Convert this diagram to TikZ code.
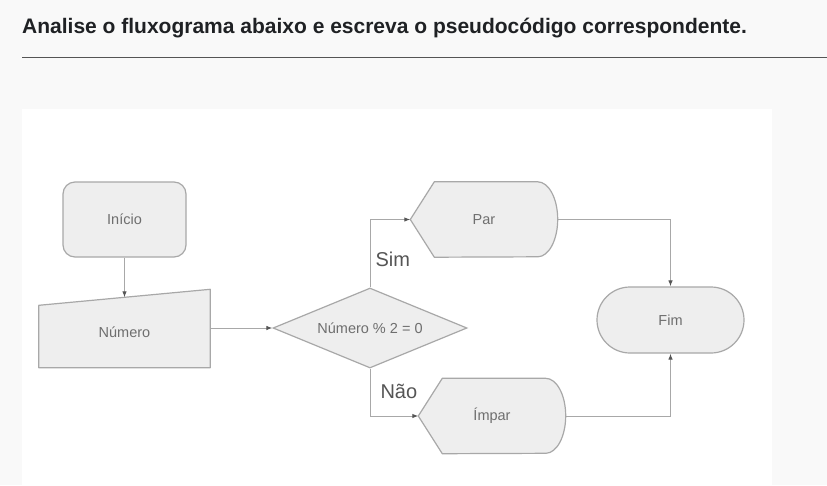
\documentclass[tikz,border=0pt]{standalone}
\usepackage{fontspec}
\setmainfont{Liberation Sans}
\usetikzlibrary{shapes.geometric}
\usetikzlibrary{arrows.meta}
\usetikzlibrary{backgrounds}
\definecolor{fundo}{HTML}{F9F9F9}
\definecolor{caixa}{HTML}{EEEEEE}
\definecolor{linha}{HTML}{A8A8A8}
\definecolor{texto}{HTML}{6E6E6E}
\definecolor{ramo}{HTML}{555555}
\definecolor{escuro}{HTML}{1F2124}
\newcommand{\rotulo}{\fontsize{14.5}{16}\selectfont}
\tikzstyle{term}=[draw=linha,fill=caixa,line width=1.2pt,rounded corners=12pt,minimum width=123pt,minimum height=75pt,font=\rotulo,text=texto]
\tikzstyle{entrada}=[minimum width=171pt,minimum height=70pt,font=\rotulo,text=texto]
\tikzstyle{decide}=[diamond,aspect=2.4,draw=linha,fill=caixa,line width=1.2pt,minimum width=194pt,minimum height=80pt,inner sep=0pt,font=\rotulo,text=texto]
\tikzstyle{mostra}=[minimum width=147pt,minimum height=75pt,font=\rotulo,text=texto]
\tikzstyle{fim}=[draw=linha,fill=caixa,line width=1.2pt,rounded corners=33pt,minimum width=147pt,minimum height=66pt,font=\rotulo,text=texto]
\tikzstyle{forma}=[draw=linha,fill=caixa,line width=1.2pt,line join=round]
\tikzstyle{seta}=[draw=linha,line width=1pt,-{Latex[length=6pt,width=4.5pt,color=ramo]}]
\tikzstyle{ramo}=[anchor=west,font=\fontsize{20}{24}\selectfont,text=ramo]

\begin{document}
\begin{tikzpicture}[x=1pt,y=-1pt,node distance=113pt]
  \useasboundingbox (0,0) rectangle (827,485);
  % enunciado
  \node [anchor=base west,inner sep=0pt,font=\fontsize{21}{25}\bfseries,text=escuro] (titulo) at (22,33.3)
    {Analise o fluxograma abaixo e escreva o pseudocódigo correspondente.};
  \draw [draw=ramo,line width=1pt] (22,57.3) -- (827,57.3);
  % fluxograma
  \node [term] (inicio) at (124.5,219.5) {Início};
  \node [entrada] (numero) [below of=inicio] {Número};
  \node [decide] (decisao) at (370,328) {Número \% 2 = 0};
  \node [mostra] (par) at (484,219.5) {Par};
  \node [mostra] (impar) at (492,416) {Ímpar};
  \node [fim] (fim) at (670.5,320) {Fim};
  \begin{scope}[on background layer]
    \fill [fundo] (0,0) rectangle (827,485);
    \fill [white] (22,109) rectangle (772,485);
    \path [forma] (numero.south west) -- (numero.south east) -- ([yshift=8pt]numero.north east)
      -- ([yshift=-8pt]numero.north west) -- cycle;
    \foreach \s in {par,impar}
      \path [forma] (\s.west) -- ([xshift=24pt]\s.north west) -- ([xshift=-20pt]\s.north east)
        arc [start angle=90,end angle=-90,x radius=20pt,y radius=37.5pt]
        -- ([xshift=24pt]\s.south west) -- cycle;
  \end{scope}
  \draw [seta] (inicio) -- (numero);
  \draw [seta] (numero.east |- decisao.west) -- (decisao.west);
  \draw [seta] (decisao.north) |- node [ramo,pos=0.207,inner sep=5pt] {Sim} (par.west);
  \draw [seta] (decisao.south) |- node [ramo,pos=0.24,inner sep=10pt] {Não} (impar.west);
  \draw [seta] (par.east) -| (fim.north);
  \draw [seta] (impar.east) -| (fim.south);
\end{tikzpicture}
\end{document}
